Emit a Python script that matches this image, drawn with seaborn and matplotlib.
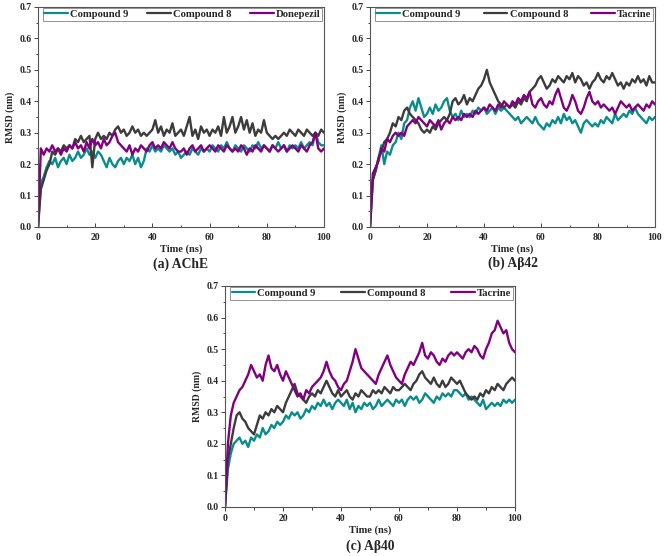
import numpy as np
import pandas as pd
import matplotlib
matplotlib.use("Agg")
import matplotlib.pyplot as plt
from matplotlib.ticker import MultipleLocator, FormatStrFormatter
import seaborn as sns

# time axis, 1 ns steps
time_ns = np.arange(0, 101, 1)

# (a) AChE
ache_c9 = [0.00, 0.14, 0.16, 0.19, 0.21, 0.20, 0.22, 0.19, 0.21, 0.22,
           0.20, 0.23, 0.21, 0.22, 0.24, 0.22, 0.23, 0.25, 0.23, 0.24,
           0.22, 0.24, 0.23, 0.21, 0.19, 0.22, 0.20, 0.19, 0.21, 0.22,
           0.20, 0.22, 0.21, 0.23, 0.20, 0.22, 0.19, 0.21, 0.25, 0.24,
           0.26, 0.24, 0.25, 0.24, 0.26, 0.25, 0.24, 0.25, 0.23, 0.24,
           0.22, 0.23, 0.24, 0.23, 0.25, 0.24, 0.23, 0.25, 0.24, 0.25,
           0.24, 0.26, 0.25, 0.24, 0.26, 0.25, 0.27, 0.25, 0.24, 0.26,
           0.25, 0.24, 0.26, 0.25, 0.24, 0.26, 0.25, 0.27, 0.25, 0.26,
           0.25, 0.24, 0.26, 0.25, 0.27, 0.25, 0.26, 0.24, 0.26, 0.25,
           0.26, 0.25, 0.27, 0.25, 0.26, 0.27, 0.26, 0.30, 0.27, 0.26,
           0.26]
ache_c8 = [0.00, 0.12, 0.15, 0.18, 0.20, 0.24, 0.23, 0.25, 0.24, 0.26,
           0.25, 0.26, 0.25, 0.28, 0.27, 0.29, 0.27, 0.28, 0.29, 0.19,
           0.28, 0.30, 0.28, 0.29, 0.28, 0.30, 0.29, 0.31, 0.32, 0.30,
           0.31, 0.29, 0.30, 0.32, 0.30, 0.31, 0.29, 0.30, 0.29, 0.30,
           0.31, 0.34, 0.30, 0.32, 0.29, 0.31, 0.30, 0.33, 0.29, 0.30,
           0.31, 0.29, 0.32, 0.35, 0.29, 0.31, 0.28, 0.32, 0.30, 0.31,
           0.29, 0.31, 0.30, 0.32, 0.29, 0.35, 0.30, 0.32, 0.35, 0.30,
           0.32, 0.35, 0.31, 0.34, 0.30, 0.33, 0.29, 0.31, 0.30, 0.34,
           0.30, 0.29, 0.28, 0.29, 0.28, 0.29, 0.30, 0.29, 0.31, 0.30,
           0.29, 0.31, 0.30, 0.29, 0.31, 0.30, 0.29, 0.30, 0.29, 0.31,
           0.30]
ache_ref = [0.00, 0.25, 0.23, 0.25, 0.24, 0.26, 0.24, 0.25, 0.23, 0.25,
            0.24, 0.26, 0.25, 0.27, 0.25, 0.26, 0.24, 0.27, 0.25, 0.28,
            0.26, 0.27, 0.25, 0.28, 0.26, 0.27, 0.29, 0.30, 0.27, 0.26,
            0.25, 0.24, 0.26, 0.23, 0.25, 0.24, 0.26, 0.25, 0.24, 0.26,
            0.27, 0.25, 0.26, 0.25, 0.27, 0.26, 0.25, 0.27, 0.25, 0.24,
            0.24, 0.25, 0.23, 0.25, 0.26, 0.24, 0.25, 0.26, 0.24, 0.25,
            0.26, 0.25, 0.24, 0.26, 0.25, 0.24, 0.26, 0.25, 0.24, 0.25,
            0.24, 0.26, 0.25, 0.23, 0.25, 0.24, 0.26, 0.25, 0.24, 0.26,
            0.25, 0.24, 0.26, 0.25, 0.24, 0.25, 0.26, 0.24, 0.25, 0.26,
            0.25, 0.24, 0.26, 0.25, 0.24, 0.26, 0.27, 0.30, 0.25, 0.24,
            0.25]

# (b) Abeta42
ab42_c9 = [0.00, 0.15, 0.18, 0.22, 0.26, 0.20, 0.24, 0.23, 0.26, 0.27,
           0.30, 0.28, 0.33, 0.34, 0.38, 0.40, 0.37, 0.41, 0.38, 0.35,
           0.36, 0.38, 0.36, 0.39, 0.37, 0.38, 0.40, 0.41, 0.37, 0.35,
           0.36, 0.34, 0.37, 0.35, 0.36, 0.35, 0.37, 0.36, 0.38, 0.37,
           0.38, 0.36, 0.37, 0.38, 0.36, 0.38, 0.37, 0.38, 0.37, 0.36,
           0.35, 0.34, 0.35, 0.33, 0.34, 0.35, 0.34, 0.33, 0.35, 0.33,
           0.32, 0.31, 0.33, 0.32, 0.34, 0.33, 0.35, 0.33, 0.36, 0.34,
           0.35, 0.33, 0.34, 0.32, 0.30, 0.33, 0.34, 0.33, 0.32, 0.33,
           0.32, 0.34, 0.33, 0.35, 0.34, 0.33, 0.36, 0.34, 0.35, 0.36,
           0.35, 0.37, 0.36, 0.38, 0.36, 0.35, 0.34, 0.33, 0.35, 0.34,
           0.35]
ab42_c8 = [0.00, 0.15, 0.18, 0.22, 0.24, 0.27, 0.28, 0.30, 0.33, 0.32,
           0.35, 0.34, 0.37, 0.38, 0.36, 0.35, 0.34, 0.33, 0.31, 0.30,
           0.31, 0.30, 0.32, 0.31, 0.33, 0.34, 0.35, 0.34, 0.36, 0.40,
           0.41, 0.39, 0.40, 0.42, 0.39, 0.41, 0.40, 0.42, 0.44, 0.45,
           0.47, 0.50, 0.46, 0.44, 0.42, 0.40, 0.39, 0.38, 0.39, 0.38,
           0.39, 0.38, 0.40, 0.39, 0.41, 0.40, 0.43, 0.44, 0.45, 0.47,
           0.48, 0.46, 0.44, 0.45, 0.47, 0.46, 0.48, 0.47, 0.46, 0.48,
           0.47, 0.49, 0.46, 0.48, 0.47, 0.45, 0.46, 0.44, 0.46, 0.47,
           0.49, 0.47, 0.46, 0.48, 0.47, 0.49, 0.47, 0.45, 0.46, 0.44,
           0.46, 0.45, 0.47, 0.46, 0.48, 0.46, 0.47, 0.45, 0.48, 0.46,
           0.46]
ab42_ref = [0.00, 0.17, 0.19, 0.21, 0.25, 0.24, 0.28, 0.27, 0.29, 0.30,
            0.29, 0.30, 0.29, 0.32, 0.33, 0.34, 0.33, 0.35, 0.34, 0.33,
            0.32, 0.34, 0.33, 0.32, 0.34, 0.31, 0.33, 0.34, 0.33, 0.35,
            0.34, 0.35, 0.34, 0.36, 0.35, 0.36, 0.35, 0.37, 0.36, 0.37,
            0.38, 0.37, 0.39, 0.38, 0.37, 0.39, 0.38, 0.40, 0.39, 0.38,
            0.40, 0.39, 0.41, 0.40, 0.42, 0.41, 0.43, 0.39, 0.38, 0.40,
            0.41, 0.39, 0.38, 0.40, 0.39, 0.42, 0.44, 0.41, 0.38, 0.37,
            0.39, 0.42, 0.40, 0.37, 0.36, 0.38, 0.41, 0.43, 0.40, 0.39,
            0.40, 0.38, 0.39, 0.38, 0.37, 0.38, 0.36, 0.38, 0.40, 0.39,
            0.38, 0.39, 0.37, 0.38, 0.39, 0.38, 0.37, 0.39, 0.38, 0.40,
            0.39]

# (c) Abeta40
ab40_c9 = [0.00, 0.12, 0.17, 0.20, 0.21, 0.22, 0.20, 0.21, 0.19, 0.22,
           0.21, 0.23, 0.22, 0.25, 0.23, 0.24, 0.26, 0.25, 0.27, 0.26,
           0.27, 0.29, 0.28, 0.30, 0.29, 0.30, 0.28, 0.29, 0.31, 0.30,
           0.32, 0.31, 0.33, 0.32, 0.34, 0.32, 0.33, 0.31, 0.33, 0.34,
           0.33, 0.32, 0.34, 0.31, 0.33, 0.30, 0.32, 0.31, 0.33, 0.32,
           0.33, 0.31, 0.32, 0.34, 0.32, 0.33, 0.34, 0.33, 0.32, 0.34,
           0.33, 0.34, 0.32, 0.34, 0.35, 0.34, 0.35, 0.33, 0.34, 0.36,
           0.35, 0.34, 0.33, 0.35, 0.34, 0.36, 0.35, 0.36, 0.35, 0.37,
           0.37, 0.36, 0.35, 0.36, 0.34, 0.35, 0.34, 0.33, 0.32, 0.34,
           0.31, 0.32, 0.33, 0.32, 0.33, 0.32, 0.34, 0.33, 0.34, 0.33,
           0.34]
ab40_c8 = [0.00, 0.15, 0.20, 0.25, 0.29, 0.30, 0.28, 0.27, 0.25, 0.24,
           0.23, 0.26, 0.29, 0.28, 0.30, 0.29, 0.31, 0.30, 0.32, 0.31,
           0.30, 0.33, 0.35, 0.37, 0.39, 0.36, 0.35, 0.34, 0.33, 0.35,
           0.36, 0.35, 0.37, 0.36, 0.38, 0.40, 0.38, 0.36, 0.35, 0.37,
           0.35, 0.36, 0.37, 0.35, 0.34, 0.36, 0.35, 0.37, 0.36, 0.35,
           0.35, 0.37, 0.36, 0.37, 0.36, 0.38, 0.37, 0.36, 0.38, 0.37,
           0.37, 0.38, 0.39, 0.38, 0.37, 0.39, 0.40, 0.42, 0.43, 0.41,
           0.40, 0.39, 0.41, 0.39, 0.38, 0.40, 0.38, 0.39, 0.41, 0.40,
           0.39, 0.40, 0.38, 0.36, 0.35, 0.34, 0.35, 0.34, 0.36, 0.35,
           0.37, 0.36, 0.38, 0.37, 0.39, 0.38, 0.37, 0.39, 0.40, 0.41,
           0.40]
ab40_ref = [0.00, 0.20, 0.29, 0.33, 0.35, 0.37, 0.38, 0.40, 0.42, 0.45,
            0.43, 0.41, 0.42, 0.40, 0.45, 0.48, 0.44, 0.43, 0.45, 0.42,
            0.40, 0.43, 0.41, 0.39, 0.37, 0.35, 0.36, 0.34, 0.37, 0.36,
            0.38, 0.39, 0.40, 0.41, 0.43, 0.46, 0.43, 0.41, 0.40, 0.38,
            0.37, 0.39, 0.40, 0.43, 0.46, 0.50, 0.47, 0.44, 0.43, 0.42,
            0.41, 0.40, 0.39, 0.42, 0.44, 0.46, 0.48, 0.45, 0.43, 0.41,
            0.40, 0.39, 0.42, 0.44, 0.46, 0.45, 0.47, 0.49, 0.52, 0.48,
            0.47, 0.49, 0.48, 0.46, 0.45, 0.47, 0.46, 0.48, 0.49, 0.48,
            0.49, 0.48, 0.47, 0.49, 0.50, 0.49, 0.51, 0.50, 0.48, 0.47,
            0.50, 0.52, 0.55, 0.56, 0.59, 0.57, 0.55, 0.56, 0.52, 0.50,
            0.49]

colors = {"Compound 9": "#0b8c8c", "Compound 8": "#3c3c3c",
          "Donepezil": "#800080", "Tacrine": "#800080"}

sns.set_style("ticks")
plt.rcParams['font.family'] = ['Liberation Serif', 'DejaVu Serif']
plt.rcParams['font.weight'] = 'bold'
plt.rcParams['axes.labelweight'] = 'bold'

fig = plt.figure(figsize=(6.66, 5.56), dpi=100)
W, H = 666, 556


def px_axes(left, top, right, bottom):
    return fig.add_axes([left / W, 1 - bottom / H, (right - left) / W, (bottom - top) / H])


panels = [
    (px_axes(38, 7, 324, 227), [ache_c9, ache_c8, ache_ref], "Donepezil", "(a) AChE", "in", -27),
    (px_axes(370, 7, 655, 227), [ab42_c9, ab42_c8, ab42_ref], "Tacrine", "(b) A\u03b242", "in", -26),
    (px_axes(225, 286, 515, 507), [ab40_c9, ab40_c8, ab40_ref], "Tacrine", "(c) A\u03b240", "out", -28.5),
]

for ax, series, ref_name, caption, xdir, cap_off in panels:
    names = ["Compound 9", "Compound 8", ref_name]
    for name, vals in zip(names, series):
        sns.lineplot(x=time_ns, y=vals, ax=ax, color=colors[name], label=name,
                     lw=1.7, estimator=None)
    ax.set_xlim(0, 100)
    ax.set_ylim(0, 0.7)
    ax.xaxis.set_major_locator(MultipleLocator(20))
    ax.xaxis.set_minor_locator(MultipleLocator(10))
    ax.yaxis.set_major_locator(MultipleLocator(0.1))
    ax.yaxis.set_minor_locator(MultipleLocator(0.05))
    ax.yaxis.set_major_formatter(FormatStrFormatter('%.1f'))
    ax.tick_params(axis='both', labelsize=7, width=0.7, color='#444444')
    ax.tick_params(axis='x', which='both', direction=xdir, pad=4 if xdir == "in" else 2)
    ax.tick_params(axis='y', which='both', direction='out', pad=1.5)
    ax.tick_params(which='major', length=3)
    ax.tick_params(which='minor', length=1.8)
    for sp in ax.spines.values():
        sp.set_visible(True)
        sp.set_color('#555555')
        sp.set_linewidth(0.8)
    ax.set_xlabel("Time (ns)", fontsize=7.5, labelpad=2)
    ax.set_ylabel("RMSD (nm)", fontsize=7, labelpad=3)
    leg = ax.legend(loc='upper center', bbox_to_anchor=(0.017, 0.93, 0.976, 0.066),
                    mode='expand', ncol=3, fontsize=7.7, frameon=True, fancybox=False,
                    borderpad=0.15, handlelength=2.2, handletextpad=0.2,
                    columnspacing=0.3, borderaxespad=0)
    leg.get_frame().set_edgecolor('#777777')
    leg.get_frame().set_linewidth(0.7)
    for line in leg.get_lines():
        line.set_linewidth(1.6)
    ax.annotate(caption, xy=(0.5, 0), xycoords='axes fraction',
                xytext=(0, cap_off), textcoords='offset points',
                ha='center', va='center', fontsize=9.8, fontweight='bold')

fig.savefig("out.png", dpi=100)
